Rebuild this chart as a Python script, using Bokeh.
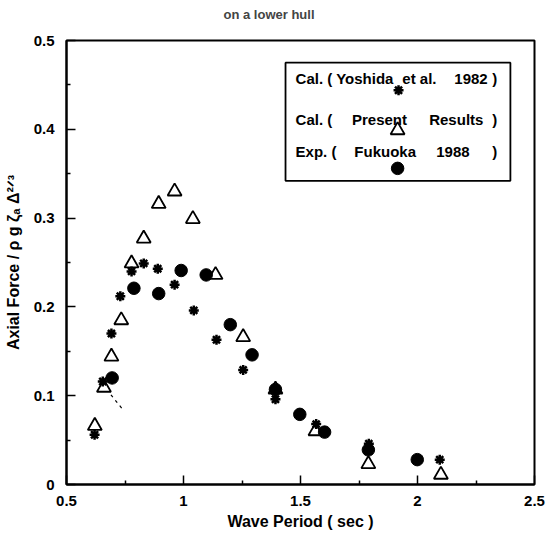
from bokeh.plotting import figure
from bokeh.models import Range1d, FixedTicker
from bokeh.core.properties import value
from bokeh.embed import file_html
from bokeh.resources import INLINE

# Axial force on a lower hull versus wave period
# Cal. (Yoshida et al. 1982)
yoshida_period = [0.62, 0.655, 0.692, 0.73, 0.778, 0.83, 0.89, 0.962, 1.044,
                  1.141, 1.255, 1.393, 1.567, 1.792, 2.095]
yoshida_force = [0.056, 0.116, 0.170, 0.212, 0.240, 0.249, 0.243, 0.225, 0.196,
                 0.163, 0.129, 0.096, 0.068, 0.046, 0.028]

# Cal. (Present Results)
present_period = [0.621, 0.66, 0.692, 0.734, 0.778, 0.83, 0.894, 0.962, 1.04,
                  1.137, 1.255, 1.393, 1.564, 1.79, 2.10]
present_force = [0.066, 0.109, 0.144, 0.185, 0.249, 0.277, 0.316, 0.330, 0.299,
                 0.236, 0.166, 0.107, 0.060, 0.023, 0.011]

# Exp. (Fukuoka 1988)
fukuoka_period = [0.695, 0.788, 0.894, 0.99, 1.097, 1.20, 1.293, 1.393, 1.497,
                  1.603, 1.79, 1.999]
fukuoka_force = [0.120, 0.221, 0.215, 0.241, 0.236, 0.180, 0.146, 0.107, 0.079,
                 0.059, 0.039, 0.028]

# short dashed trace below the second triangle
trace_period = [0.69, 0.745]
trace_force = [0.101, 0.083]

x_ticks = [0.5, 1.0, 1.5, 2.0, 2.5]
x_tick_labels = ["0.5", "1", "1.5", "2", "2.5"]
y_ticks = [0.0, 0.1, 0.2, 0.3, 0.4, 0.5]
y_tick_labels = ["0", "0.1", "0.2", "0.3", "0.4", "0.5"]

FONT = "Liberation Sans"

p = figure(width=546, height=533,
           x_range=Range1d(0.5, 2.5), y_range=Range1d(0.0, 0.5),
           output_backend="svg", toolbar_location=None,
           min_border_left=66, min_border_right=12,
           min_border_top=40, min_border_bottom=49)

p.background_fill_color = "white"
p.border_fill_color = "white"
p.outline_line_color = "black"
p.outline_line_width = 2
p.xgrid.visible = False
p.ygrid.visible = False

# heading; the trailing blank line lifts it towards the top edge
p.title.text = "on a lower hull\n"
p.title.text_font = FONT
p.title.text_font_size = "13px"
p.title.text_font_style = "bold"
p.title.align = "left"
p.title.offset = 157
p.title.standoff = 8
p.title.vertical_align = "bottom"

# x axis
xa = p.xaxis[0]
xa.ticker = FixedTicker(ticks=x_ticks, minor_ticks=[0.75, 1.25, 1.75, 2.25])
xa.major_label_overrides = dict(zip(x_ticks, x_tick_labels))
xa.axis_label = "Wave Period ( sec )"
# y axis
ya = p.yaxis[0]
ya.ticker = FixedTicker(ticks=y_ticks,
                        minor_ticks=[0.05, 0.15, 0.25, 0.35, 0.45])
ya.major_label_overrides = dict(zip(y_ticks, y_tick_labels))
ya.axis_label = "Axial Force / ρ g ζₐ Δ²ᐟ³"

for ax in (xa, ya):
    ax.axis_line_color = "black"
    ax.axis_line_width = 2
    ax.major_tick_in = 9
    ax.major_tick_out = 0
    ax.minor_tick_in = 4
    ax.minor_tick_out = 0
    ax.major_tick_line_width = 1.5
    ax.minor_tick_line_width = 1.5
    ax.major_label_text_font = FONT
    ax.major_label_text_font_size = "15px"
    ax.major_label_text_font_style = "bold"
    ax.major_label_text_color = "black"
    ax.axis_label_text_font = FONT
    ax.axis_label_text_font_size = "16px"
    ax.axis_label_text_font_style = "bold"
    ax.axis_label_text_color = "black"

xa.major_label_standoff = 11
xa.axis_label_standoff = 4
ya.major_label_standoff = 12
ya.axis_label_standoff = 9

# markers
p.line(trace_period, trace_force, line_color="black", line_width=1.2,
       line_dash="3 4")
p.scatter(present_period, present_force, marker="triangle", size=14,
          fill_color="white", line_color="black", line_width=1.8)
p.scatter(yoshida_period, yoshida_force, marker="asterisk", size=10,
          line_color="black", line_width=2.5)
p.scatter(fukuoka_period, fukuoka_force, marker="circle", size=12.5,
          fill_color="black", line_color="black")

# legend box, drawn in the upper right of the frame
legend_left, legend_right = 1.436, 2.397
legend_top, legend_bottom = 0.475, 0.342
p.quad(left=[legend_left], right=[legend_right], top=[legend_top],
       bottom=[legend_bottom], fill_color="white", line_color="black",
       line_width=1.8)

txt = dict(text_font=value(FONT), text_font_size="15px",
           text_font_style="bold", text_color="black",
           text_baseline="middle")
p.text(x=[1.479, 1.935], y=[0.457] * 2, text=["Cal. ( Yoshida", "et al."],
       text_align="left", **txt)
p.text(x=[2.30], y=[0.457], text=["1982"], text_align="right", **txt)
p.text(x=[1.479, 1.72, 2.05], y=[0.411] * 3,
       text=["Cal. (", "Present", "Results"], text_align="left", **txt)
p.text(x=[1.479, 1.73, 2.08], y=[0.375] * 3,
       text=["Exp. (", "Fukuoka", "1988"], text_align="left", **txt)
p.text(x=[2.33, 2.33, 2.33], y=[0.457, 0.411, 0.375], text=[")", ")", ")"],
       text_align="center", **txt)

p.scatter([1.919], [0.444], marker="asterisk", size=10, line_color="black",
          line_width=2.5)
p.scatter([1.915], [0.399], marker="triangle", size=14, fill_color="white",
          line_color="black", line_width=1.8)
p.scatter([1.915], [0.356], marker="circle", size=12.5, fill_color="black",
          line_color="black")

open("out.html", "w").write(file_html(p, INLINE))
